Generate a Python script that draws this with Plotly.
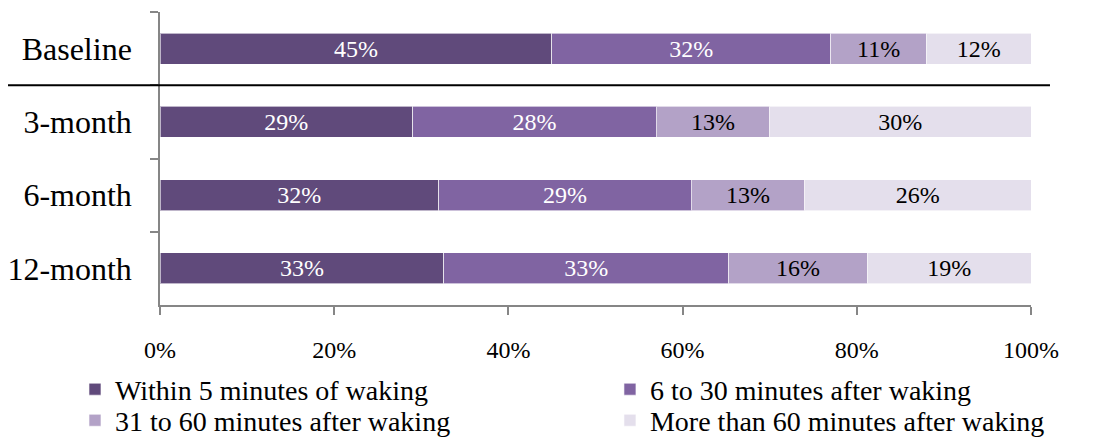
import plotly.graph_objects as go

# Survey periods (top to bottom)
periods = ["Baseline", "3-month", "6-month", "12-month"]

# Time to first cigarette after waking, share of respondents (%)
within_5 = [45, 29, 32, 32.6]
min_6_30 = [32, 28, 29, 32.7]
min_31_60 = [11, 13, 13, 15.9]
over_60 = [12, 30, 26, 18.8]

series_names = [
    "Within 5 minutes of waking",
    "6 to 30 minutes after waking",
    "31 to 60 minutes after waking",
    "More than 60 minutes after waking",
]
series_values = [within_5, min_6_30, min_31_60, over_60]
series_colors = ["#604A7B", "#8064A2", "#B3A2C7", "#E4DFEC"]
label_colors = ["white", "white", "black", "black"]

x_ticks = [0, 20, 40, 60, 80, 100]

FONT = "Liberation Serif"
AXIS_GREY = "#868686"

fig = go.Figure()
legend_ids = ["legend", "legend2", "legend3", "legend4"]
for name, vals, color, tcol, lg in zip(series_names, series_values,
                                        series_colors, label_colors, legend_ids):
    fig.add_trace(go.Bar(
        y=periods,
        x=vals,
        name=name,
        orientation="h",
        marker=dict(color=color, line=dict(color="rgba(255,255,255,0.6)", width=1)),
        texttemplate="%{x:.0f}%",
        textposition="inside",
        insidetextanchor="middle",
        textangle=0,
        textfont=dict(family=FONT, size=24, color=tcol),
        legend=lg,
        showlegend=True,
        hoverinfo="skip",
    ))

# Rule separating the baseline row from the follow-up rows
fig.add_shape(type="line", xref="paper", yref="y",
              x0=-0.1745, x1=1.0218, y0=0.5, y1=0.5,
              line=dict(color="black", width=2))

legend_common = dict(font=dict(family=FONT, size=28, color="black"),
                     bgcolor="rgba(0,0,0,0)", borderwidth=0,
                     xanchor="left", yanchor="top",
                     orientation="v")

fig.update_layout(
    width=1111,
    height=444,
    barmode="stack",
    bargap=0.58,
    showlegend=True,
    margin=dict(l=160, r=80, t=12, b=139, autoexpand=False),
    paper_bgcolor="white",
    plot_bgcolor="white",
    font=dict(family=FONT, color="black"),
    uniformtext=dict(minsize=24, mode="show"),
    xaxis=dict(
        range=[0, 100],
        tickvals=x_ticks,
        ticktext=[f"{v}%" for v in x_ticks],
        ticks="outside",
        ticklen=8,
        tickwidth=1.5,
        tickcolor=AXIS_GREY,
        showline=True,
        linecolor=AXIS_GREY,
        linewidth=1.5,
        showgrid=False,
        zeroline=False,
        automargin=False,
        ticklabelstandoff=14,
        tickfont=dict(family=FONT, size=24, color="black"),
        fixedrange=True,
    ),
    yaxis=dict(
        categoryorder="array",
        categoryarray=periods,
        autorange="reversed",
        tickson="boundaries",
        ticks="outside",
        ticklen=8,
        tickwidth=1.5,
        tickcolor=AXIS_GREY,
        showline=True,
        linecolor=AXIS_GREY,
        linewidth=1.5,
        showgrid=False,
        zeroline=False,
        automargin=False,
        ticklabelstandoff=20,
        tickfont=dict(family=FONT, size=32, color="black"),
        fixedrange=True,
    ),
    legend=dict(x=-0.0976, y=-0.203, **legend_common),
    legend2=dict(x=0.5166, y=-0.203, **legend_common),
    legend3=dict(x=-0.0976, y=-0.309, **legend_common),
    legend4=dict(x=0.5166, y=-0.309, **legend_common),
)

fig.write_html("out.html")
